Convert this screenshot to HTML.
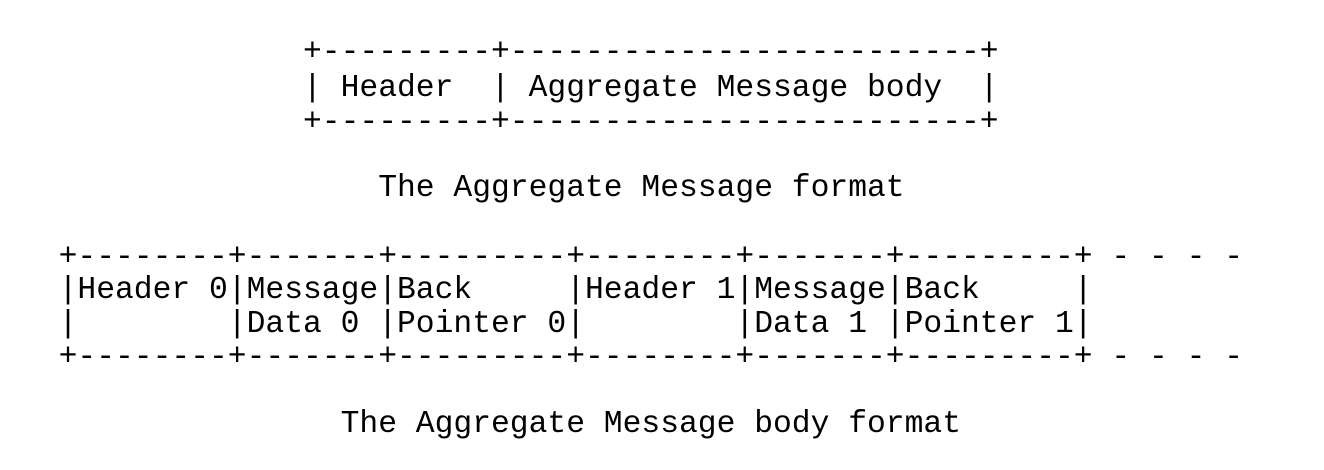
<!DOCTYPE html>
<html><head><meta charset="utf-8"><style>
html,body{margin:0;padding:0;background:#fff;width:1324px;height:470px;overflow:hidden;}
.l{position:absolute;left:58.6px;white-space:pre;font-family:"Liberation Mono","DejaVu Sans Mono",monospace;font-size:31.33px;line-height:34px;height:34px;color:#000;}
</style></head><body>
<div class="l" style="top:36px">             +---------+-------------------------+</div>
<div class="l" style="top:72px">             | Header  | Aggregate Message body  |</div>
<div class="l" style="top:106px">             +---------+-------------------------+</div>
<div class="l" style="top:172px">                 The Aggregate Message format</div>
<div class="l" style="top:241px">+--------+-------+---------+--------+-------+---------+ - - - -</div>
<div class="l" style="top:274px">|Header 0|Message|Back     |Header 1|Message|Back     |</div>
<div class="l" style="top:308px">|        |Data 0 |Pointer 0|        |Data 1 |Pointer 1|</div>
<div class="l" style="top:341px">+--------+-------+---------+--------+-------+---------+ - - - -</div>
<div class="l" style="top:408px">               The Aggregate Message body format</div>
</body></html>
